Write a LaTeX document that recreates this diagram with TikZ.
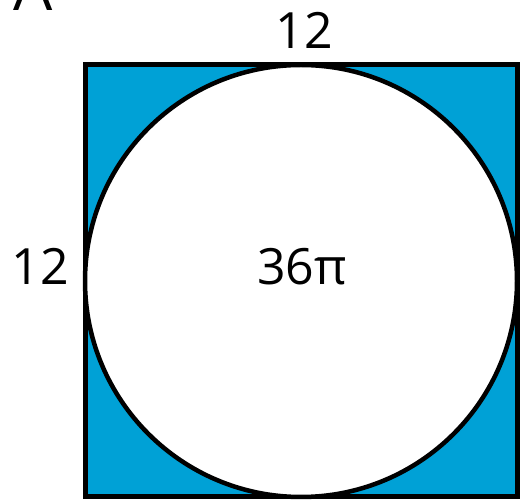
\documentclass[tikz,border=0pt]{standalone}
\usepackage{fontspec}
\setmainfont{Open Sans}
\definecolor{fillblue}{RGB}{0,161,214}
\begin{document}
\begin{tikzpicture}[x=1pt,y=1pt,
  lbl/.style={inner sep=0pt, font=\fontsize{50}{60}\selectfont}]
\useasboundingbox (0,0) rectangle (520,501);
\begin{scope}
\clip (0,0) rectangle (520,501);
\node[lbl, anchor=base, font=\fontsize{62}{72}\selectfont] (lettera) at (33,490) {A};
\end{scope}
\node[draw, line width=5pt, fill=fillblue, minimum size=432pt, inner sep=0pt] (sq) at (301,220) {};
\node[draw, line width=4.5pt, fill=white, circle, minimum size=432pt, inner sep=0pt] (circ) at (301,220) {};
\node[lbl] (top) at (304,471) {12};
\node[lbl] (left) at (40,235) {12};
\node[lbl] (area) at (302,234) {36π};
\end{tikzpicture}
\end{document}
